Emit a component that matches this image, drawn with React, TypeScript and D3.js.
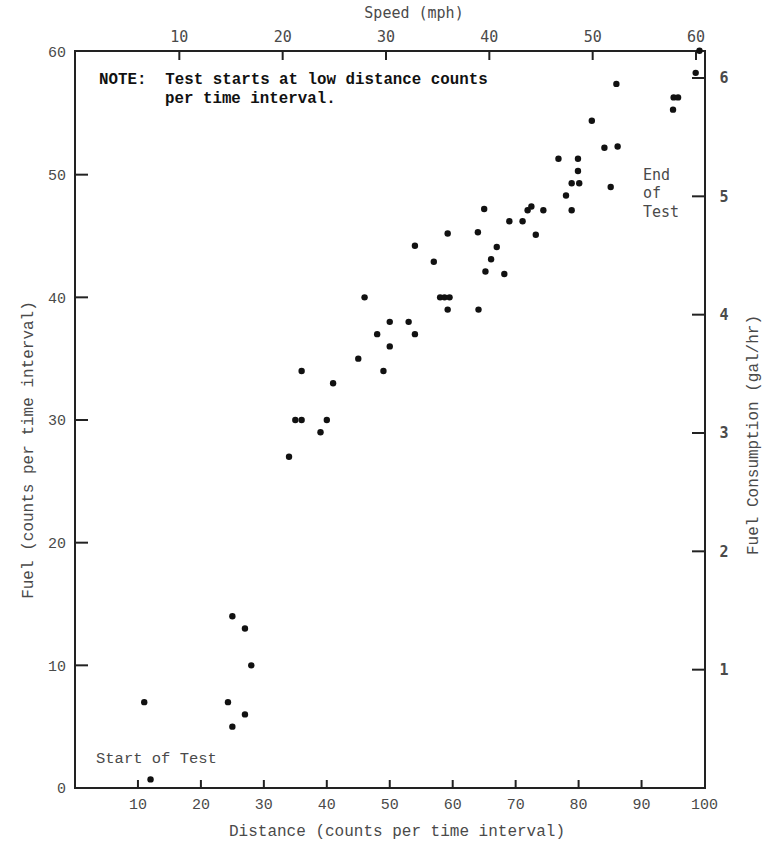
import React from "react";
import * as d3 from "d3";

// readings taken off the scanned plot
const distance = [
  11, 12, 24.3, 25, 25, 27, 27, 28,
  34, 35, 36, 36, 39, 40, 41, 45, 46, 48, 49, 50, 50, 53, 54, 54,
  57, 58, 58.7, 59.5, 59.2, 59.2, 64, 64.1, 65, 65.2, 66.1, 67, 68.2, 69, 71.1, 71.9, 72.5, 73.2, 74.4,
  76.8, 78, 78.9, 78.9, 79.9, 79.9, 80.1, 82.1, 84.1, 85.1, 86, 86.2, 95, 95.1, 95.8, 98.6, 99.2,
];
const fuel = [
  7, 0.7, 7, 5, 14, 13, 6, 10,
  27, 30, 30, 34, 29, 30, 33, 35, 40, 37, 34, 38, 36, 38, 37, 44.2,
  42.9, 40, 40, 40, 39, 45.2, 45.3, 39, 47.2, 42.1, 43.1, 44.1, 41.9, 46.2, 46.2, 47.1, 47.4, 45.1, 47.1,
  51.3, 48.3, 47.1, 49.3, 51.3, 50.3, 49.3, 54.4, 52.2, 49, 57.4, 52.3, 55.3, 56.3, 56.3, 58.3, 60.1,
];

const distanceTicks = [10, 20, 30, 40, 50, 60, 70, 80, 90, 100];
const fuelTicks = [0, 10, 20, 30, 40, 50, 60];
const speedTicks = [10, 20, 30, 40, 50, 60];
const consumptionTicks = [1, 2, 3, 4, 5, 6];

const W = 767;
const H = 846;
const left = 75, right = 705, top = 51, bottom = 788;

const serif = "'Liberation Mono', 'Courier New', monospace";
const gothic = "'DejaVu Sans Mono', monospace";
const ink = "#4a4a4a";

const App = () => {
  const x = d3.scaleLinear().domain([0, 100]).range([left, 704.5]);
  const y = d3.scaleLinear().domain([0, 60]).range([bottom, 52]);
  const speed = d3.scaleLinear().domain([0, 60]).range([76, 696]);
  const gph = d3.scaleLinear().domain([0, 6]).range([bottom, 78]);

  const points = distance.map((d, i) => ({ d, f: fuel[i] }));

  return (
    <svg width={W} height={H} style={{ position: "absolute", left: 0, top: 0, background: "#fff" }}>
      {/* frame */}
      <rect x={left} y={top} width={right - left} height={bottom - top} fill="none" stroke="#222" strokeWidth={2} />

      {/* left axis */}
      {fuelTicks.map(t => (
        <g key={"l" + t}>
          {t > 0 && t < 60 && <line x1={left} x2={left + 13} y1={y(t)} y2={y(t)} stroke="#222" strokeWidth={2} />}
          <text x={66} y={y(t)} dy="0.35em" textAnchor="end" fontFamily={serif} fontSize={15} fill={ink}>{t}</text>
        </g>
      ))}
      <text transform={`translate(27,450) rotate(-90)`} textAnchor="middle" dy="0.35em" fontFamily={serif} fontSize={16} fill={ink}>
        Fuel (counts per time interval)
      </text>

      {/* bottom axis */}
      {distanceTicks.map(t => (
        <g key={"b" + t}>
          {t < 100 && <line x1={x(t)} x2={x(t)} y1={bottom} y2={bottom - 8} stroke="#222" strokeWidth={2} />}
          <text x={x(t)} y={809} textAnchor="middle" fontFamily={serif} fontSize={15} fill={ink}>{t}</text>
        </g>
      ))}
      <text x={397} y={836} textAnchor="middle" fontFamily={serif} fontSize={16} fill={ink}>
        Distance (counts per time interval)
      </text>

      {/* top axis: speed */}
      {speedTicks.map(t => (
        <g key={"t" + t}>
          <line x1={speed(t)} x2={speed(t)} y1={top} y2={top + 9} stroke="#222" strokeWidth={2} />
          <text x={speed(t)} y={42} textAnchor="middle" fontFamily={gothic} fontSize={15} fill={ink}>{t}</text>
        </g>
      ))}
      <text x={414} y={18} textAnchor="middle" fontFamily={gothic} fontSize={15} fill={ink}>Speed (mph)</text>

      {/* right axis: consumption */}
      {consumptionTicks.map(t => (
        <g key={"r" + t}>
          <line x1={right} x2={right - 13} y1={gph(t)} y2={gph(t)} stroke="#222" strokeWidth={2} />
          <text x={724} y={gph(t)} dy="0.35em" textAnchor="middle" fontFamily={gothic} fontSize={15} fontWeight="bold" fill={ink}>{t}</text>
        </g>
      ))}
      <text transform={`translate(752,435) rotate(-90)`} textAnchor="middle" dy="0.35em" fontFamily={serif} fontSize={16} fill={ink}>
        Fuel Consumption (gal/hr)
      </text>

      {/* data */}
      {points.map((p, i) => (
        <circle key={i} cx={x(p.d)} cy={y(p.f)} r={3.2} fill="#111" />
      ))}

      {/* annotations */}
      <text x={99} y={84} fontFamily={serif} fontSize={15.8} fontWeight="bold" fill="#111" xmlSpace="preserve">
        NOTE:  Test starts at low distance counts
      </text>
      <text x={165} y={103} fontFamily={serif} fontSize={15.8} fontWeight="bold" fill="#111">
        per time interval.
      </text>
      <text x={96} y={763} fontFamily={serif} fontSize={15.5} fill={ink}>Start of Test</text>
      <text fontFamily={gothic} fontSize={15} fill={ink}>
        <tspan x={643} y={180}>End</tspan>
        <tspan x={643} y={198}>of</tspan>
        <tspan x={643} y={217}>Test</tspan>
      </text>
    </svg>
  );
};

export default App;
